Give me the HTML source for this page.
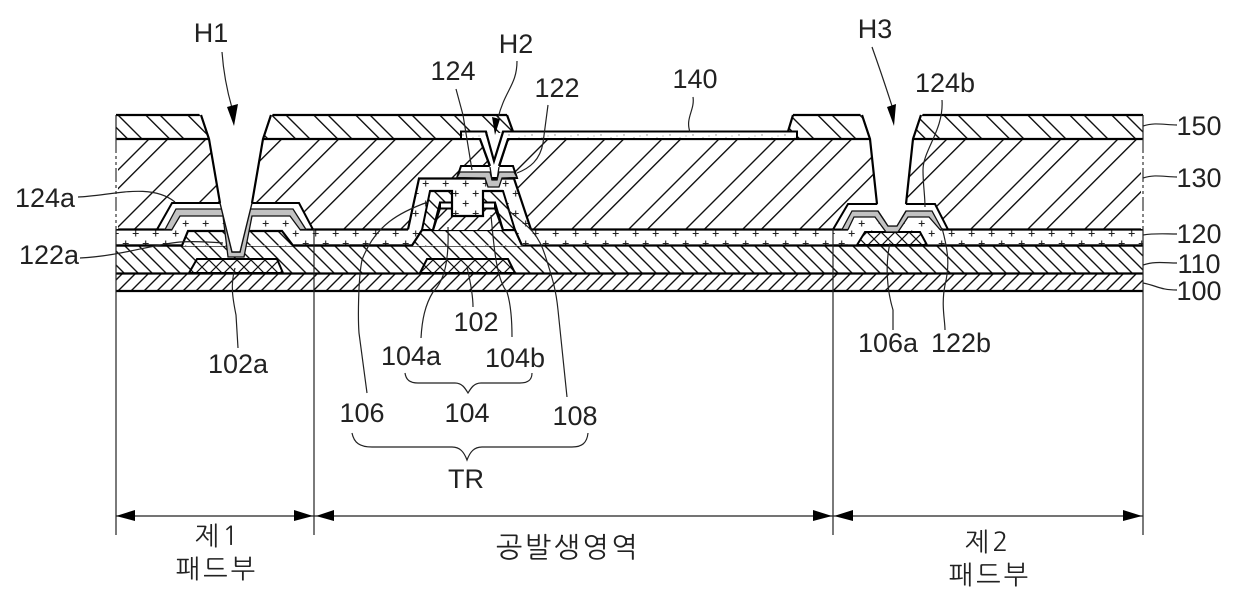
<!DOCTYPE html>
<html><head><meta charset="utf-8"><style>
html,body{margin:0;padding:0;background:#fff;width:1240px;height:608px;overflow:hidden}
svg{display:block}
text{font-family:"Liberation Sans","NanumGothic","Noto Sans CJK KR",sans-serif;font-size:27px;fill:#222;text-anchor:middle}
.k{font-family:"NanumGothic","Noto Sans CJK KR",sans-serif;font-size:26px;letter-spacing:3px}
.l{fill:none;stroke:#222;stroke-width:1.2}
.t{fill:none;stroke:#000;stroke-width:2.2;stroke-linejoin:miter}
.p{stroke:#000;stroke-width:2}
.g{fill:#c2c2c2;stroke:#111;stroke-width:1.3}
</style></head><body>
<svg width="1240" height="608" viewBox="0 0 1240 608" xmlns="http://www.w3.org/2000/svg">
<defs>
<pattern id="h150" width="42" height="42" patternUnits="userSpaceOnUse">
<rect width="42" height="42" fill="#fff"/><path d="M1 -2L44 41M-2 37L5 44M28.7 -2L44 13.3M-2 9.3L32.7 44" stroke="#111" stroke-width="1.4" fill="none"/></pattern>
<pattern id="h130" width="57" height="57" patternUnits="userSpaceOnUse">
<rect width="57" height="57" fill="#fff"/><path d="M5 -2L-2 5M59 1L1 59M23.7 -2L-2 23.7M59 19.7L19.7 59" stroke="#111" stroke-width="1.4" fill="none"/></pattern>
<pattern id="h110" width="14" height="14" patternUnits="userSpaceOnUse">
<rect width="14" height="14" fill="#fff"/><path d="M3 -2L16 11M-2 7L7 16" stroke="#111" stroke-width="1.4" fill="none"/></pattern>
<pattern id="h100" width="13" height="13" patternUnits="userSpaceOnUse">
<rect width="13" height="13" fill="#fff"/><path d="M8 -2L-2 8M15 4L4 15" stroke="#111" stroke-width="1.4" fill="none"/></pattern>
<pattern id="hx" width="14" height="14" patternUnits="userSpaceOnUse">
<rect width="14" height="14" fill="#fff"/><path d="M3 -2L16 11M-2 7L7 16M9 -2L-2 9M16 5L5 16" stroke="#111" stroke-width="1.2" fill="none"/></pattern>
<pattern id="pL" width="20" height="20" patternUnits="userSpaceOnUse" patternTransform="translate(135.7 233.5)">
<rect width="20" height="20" fill="#fff"/><path d="M-3 0H3M0 -3V3M17 0H23M20 -3V3M0 17V23M-3 20H3M17 20H23M20 17V23M7 10H13M10 7V13" stroke="#222" stroke-width="1.1"/></pattern>
<pattern id="pR" width="20" height="20" patternUnits="userSpaceOnUse" patternTransform="translate(791.7 233.5)">
<rect width="20" height="20" fill="#fff"/><path d="M-3 0H3M0 -3V3M17 0H23M20 -3V3M0 17V23M-3 20H3M17 20H23M20 17V23M7 10H13M10 7V13" stroke="#222" stroke-width="1.1"/></pattern>
<pattern id="st" width="23" height="7" patternUnits="userSpaceOnUse">
<rect width="23" height="7" fill="#fff"/><circle cx="3" cy="2" r=".7" fill="#888"/><circle cx="13" cy="5" r=".7" fill="#999"/><circle cx="19" cy="3" r=".6" fill="#aaa"/></pattern>
<clipPath id="cbL"><polygon points="182,245.5 188,231 282,231 293,245.5"/></clipPath>
<clipPath id="cbC"><polygon points="412,245.5 422,230 515,230 522,245.5"/></clipPath>
</defs>

<!-- base layers -->
<rect x="116" y="115" width="1027" height="24" fill="url(#h150)"/>
<rect x="116" y="139" width="1027" height="91" fill="url(#h130)"/>
<rect x="116" y="230" width="1027" height="16" fill="url(#pL)"/>
<rect x="833" y="230" width="310" height="16" fill="url(#pR)"/>
<rect x="116" y="246" width="1027" height="28" fill="url(#h110)"/>
<rect x="116" y="274" width="1027" height="17" fill="url(#h100)"/>

<!-- gates -->
<polygon points="189,273 197,259 277,259 283,273" fill="url(#hx)" class="p"/>
<polygon points="420,273 427,259 508,259 515,273" fill="url(#hx)" class="p"/>

<!-- clear area above 140 -->
<rect x="507" y="113" width="286" height="18.5" fill="#fff"/>
<polygon points="507,115 513,131.5 507,131.5" fill="url(#h150)"/>
<polygon points="793,115 788,131.5 793,131.5" fill="url(#h150)"/>

<!-- horizontal lines -->
<g stroke="#000" stroke-width="2.2">
<path d="M116 115H201M271 115H507M793 115H862M921 115H1143"/>
<path d="M116 139H1143M116 229.5H1143M116 245.5H1143M116 273.5H1143M116 291H1143"/>
</g>

<!-- 140 layer -->
<polygon points="461,131.5 486,131.5 494,161 503,131.5 797,131.5 797,139 508,139 499,167 490,167 480,139 461,139" fill="url(#st)" class="p"/>
<path d="M507 115L513 131.5M793 115L788 131.5" class="t"/>

<!-- left pad -->
<polygon points="157,229.5 172,203 299,203 313,229.5" fill="#fff" class="p"/>
<polygon points="172,230 180,216 290,216 300,230 293,246 182,246" fill="url(#pL)"/>
<polygon points="182,245.5 188,231 282,231 293,245.5" fill="#fff"/>
<path clip-path="url(#cbL)" d="M165 230L181 246M179 230L195 246M193 230L209 246M207 230L223 246M221 230L237 246M235 230L251 246M249 230L265 246M263 230L279 246M277 230L293 246M291 230L307 246" stroke="#111" stroke-width="1.4" fill="none"/>
<path d="M116 245.5H182L188 231H282L293 245.5H340" class="t"/>
<polygon class="g" points="165,229.5 176,209 222,209 232,252 240,252 250,209 293,209 306,229.5 300,229.5 290,216 252,216 244,257 228,257 223,216 180,216 172,229.5"/>
<polygon points="199,113 209,139 220,203 232,252 240,252 252,203 263,139 273,113" fill="#fff"/>
<path d="M201 115L209 139L220 203" class="t"/>
<path d="M271 115L263 139L252 203" class="t"/>
<path d="M220 203L232 252H240L252 203" fill="none" stroke="#111" stroke-width="1.4"/>

<!-- center stack -->
<polygon points="457,178 461,166 513,166 517,178" fill="#fff" class="p"/>
<polygon points="408,230 418,178 515,178 531,230 522,246 412,246" fill="url(#pL)"/>
<path d="M408 229.5L419 178.5H514L531 229.5" class="t"/>
<polygon points="412,245.5 422,230 515,230 522,245.5" fill="#fff"/>
<path clip-path="url(#cbC)" d="M389 230L405 246M403 230L419 246M417 230L433 246M431 230L447 246M445 230L461 246M459 230L475 246M473 230L489 246M487 230L503 246M501 230L517 246M515 230L531 246" stroke="#111" stroke-width="1.4" fill="none"/>
<path d="M350 245.5H412L422 230H515L522 245.5" class="t"/>
<polygon points="422,230 430,191 452,191 452,216 483,216 483,191 503,191 515,230" fill="url(#h100)"/>
<polygon points="422,230 430,191 452,191 452,202.5 440,202.5 433,230" fill="url(#h110)" class="p"/>
<polygon points="483,191 503,191 515,230 503,230 495,202.5 483,202.5" fill="url(#h110)" class="p"/>
<rect x="440" y="202.5" width="12" height="6" fill="#fff" class="p"/>
<rect x="483" y="202.5" width="12" height="6" fill="#fff" class="p"/>
<polygon points="452,191 483,191 483,216 452,216" fill="url(#pL)"/>
<path d="M430 191H452V216H483V191H503M433 230L440 208M503 230L495 208" class="t"/>
<polygon class="g" points="457,177.5 460,172 490,172 492,180 497,180 499,172 514,172 517,177.5 502,178 499,187 488,187 485,178"/>
<polygon points="480,139.5 508,139.5 499,167 490,167" fill="#fff"/>
<path d="M480 139L490 166M508 139L499 166" class="t"/>
<path d="M490 167L492 180M499 167L497 180" fill="none" stroke="#111" stroke-width="1.3"/>
<polygon points="486,133 503,133 494,161" fill="#fff"/>
<path d="M486 132L494 161L503 132" class="t"/>

<!-- right pad -->
<polygon points="833,229.5 848,204 935,204 948,229.5" fill="#fff" class="p"/>
<polygon points="848,230 854,217 875,217 886,231 898,231 908,217 929,217 940,230 940,246 848,246" fill="url(#pR)"/>
<polygon points="857,245 865,232 920,232 927,245" fill="url(#hx)" class="p"/>
<path d="M833 245.5H1143" class="t"/>
<polygon class="g" points="842,229.5 852,211 878,211 888,226 897,226 906,211 932,211 942,229.5 940,229.5 929,217 908,217 898,232 886,232 875,217 854,217 848,229.5"/>
<polygon points="860,113 870,139 877,204 881,211 888,226 897,226 904,211 906,204 913,139 923,113" fill="#fff"/>
<path d="M862 115L870 139L877 204M906 204L913 139L921 115" class="t"/>
<path d="M878 211L888 226H897L906 211" stroke="#111" stroke-width="1.3" fill="none"/>

<!-- side lines -->
<rect x="114" y="141" width="4" height="88" fill="#fff"/>
<rect x="1141" y="141" width="4" height="88" fill="#fff"/>
<path d="M116 115V139M1143 115V139M116 230V291M1143 230V291" stroke="#222" stroke-width="1.2"/>
<path d="M116 139V230M1143 139V230" stroke="#333" stroke-width="1.2" stroke-dasharray="14 3 3 3 3 3"/>
<path d="M116 291V535M1143 291V535M314 229V535M833 229V535" stroke="#222" stroke-width="1.2"/>

<!-- dimension -->
<path d="M116 516H1143" stroke="#222" stroke-width="1.2"/>
<g fill="#000">
<polygon points="116,516 135,510 135,521"/>
<polygon points="313,516 294,510 294,521"/>
<polygon points="316,516 334,510 334,521"/>
<polygon points="832,516 813,510 813,521"/>
<polygon points="834,516 853,510 853,521"/>
<polygon points="1142,516 1123,510 1123,521"/>
</g>

<!-- H arrows -->
<path d="M222 52Q224 80 232 108" class="l"/>
<polygon points="227,107 238,104 234,126" fill="#000"/>
<path d="M517 61C517 85 505 90 498 118" class="l"/>
<polygon points="492,117 500,119 495,135" fill="#000"/>
<path d="M872 47Q882 75 892 106" class="l"/>
<polygon points="887,107 896,104 894,126" fill="#000"/>

<!-- leaders -->
<g class="l">
<path d="M78 197C110 196 150 182 175 202"/>
<path d="M80 258C120 256 150 245 180 242C195 241 210 242 223 243"/>
<path d="M235 268C230 285 233 300 236 315L238 348"/>
<path d="M456 89L463 115L472 170"/>
<path d="M548 105L543 143C540 160 530 168 517 173"/>
<path d="M693 97C695 110 685 118 690 132"/>
<path d="M942 100C944 130 923 150 923 170C923 185 925 195 925 207"/>
<path d="M942 228C948 250 950 265 945 285C941 305 945 320 945 330"/>
<path d="M890 243C885 265 887 290 893 310V330"/>
<path d="M1143 126C1155 122 1165 125 1177 125"/>
<path d="M1143 178C1155 174 1165 177 1177 177"/>
<path d="M1143 235C1155 233 1165 234 1177 234"/>
<path d="M1143 265C1155 261 1165 263 1177 263"/>
<path d="M1143 283C1158 286 1160 290 1177 290"/>
<path d="M428 202C400 212 375 225 362 260C358 280 358 320 359 333L367 393"/>
<path d="M448 227C449 260 445 280 433 292C425 305 422 320 421 338"/>
<path d="M467 267C470 280 473 295 473 307"/>
<path d="M491 215C494 250 497 280 507 292C511 305 512 320 512 337"/>
<path d="M508 210C525 225 537 230 545 255C553 280 556 290 558 310L567 397"/>
<path d="M405 373C406 380 410 383 418 383H455C462 383 465 388 468 393C471 388 474 383 481 383H520C528 383 532 380 532 373"/>
<path d="M352 433C354 443 360 447 372 447H452C460 447 464 452 467 460C470 452 474 447 482 447H572C582 447 587 443 588 433"/>
</g>

<!-- labels -->
<text x="211" y="42">H1</text>
<text x="516" y="53">H2</text>
<text x="875" y="38">H3</text>
<text x="453" y="80">124</text>
<text x="557" y="97">122</text>
<text x="695" y="88">140</text>
<text x="945" y="92">124b</text>
<text x="1199" y="135">150</text>
<text x="1199" y="187">130</text>
<text x="1199" y="243">120</text>
<text x="1199" y="273">110</text>
<text x="1199" y="300">100</text>
<text x="45" y="207">124a</text>
<text x="49" y="264">122a</text>
<text x="238" y="373">102a</text>
<text x="476" y="331">102</text>
<text x="411" y="365">104a</text>
<text x="515" y="367">104b</text>
<text x="362" y="422">106</text>
<text x="467" y="422">104</text>
<text x="575" y="425">108</text>
<text x="466" y="488">TR</text>
<text x="888" y="352">106a</text>
<text x="961" y="352">122b</text>
<text class="k" x="218" y="545">제1</text>
<text class="k" x="217" y="578">패드부</text>
<text class="k" style="font-size:28px;letter-spacing:2.5px" x="568" y="557">공발생영역</text>
<text class="k" x="988" y="551">제2</text>
<text class="k" x="990" y="584">패드부</text>
</svg>
</body></html>
